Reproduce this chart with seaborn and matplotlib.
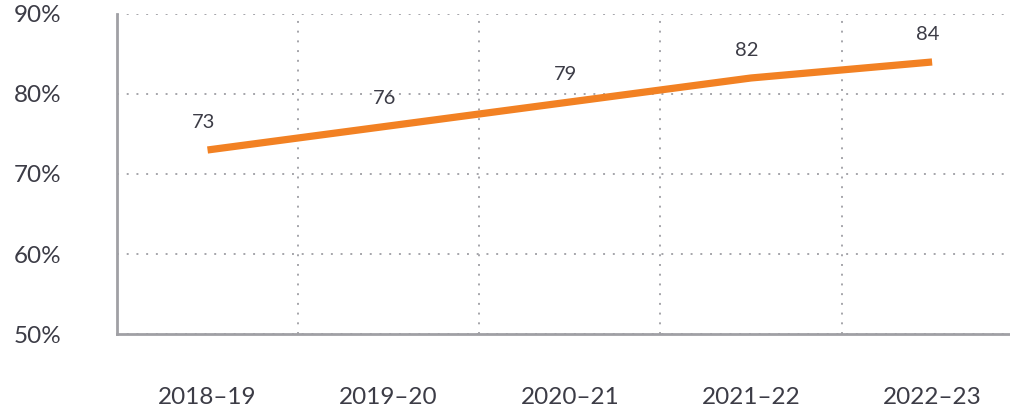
import matplotlib
matplotlib.use("Agg")
import matplotlib.pyplot as plt
import seaborn as sns
import pandas as pd
from matplotlib.ticker import FixedLocator, PercentFormatter

# Share of pupils, by school year
years = ["2018–19", "2019–20", "2020–21", "2021–22", "2022–23"]
values = [73, 76, 79, 82, 84]
y_ticks = [50, 60, 70, 80, 90]

sns.set_theme(style="white")
plt.rcParams["font.family"] = ["Lato", "DejaVu Sans"]

df = pd.DataFrame({"year": years, "value": values})

fig = plt.figure(figsize=(10.10, 4.11), dpi=100)
ax = fig.add_axes([0.1158, 0.1873, 0.8842, 0.7787])

sns.lineplot(data=df, x="year", y="value", ax=ax, color="#f28123",
             linewidth=5.2, solid_capstyle="butt", zorder=3)

text_color = "#3c3c46"
grid_color = "#a5a5aa"

for i, v in enumerate(values):
    ax.annotate(f"{v}", (i, v), xytext=(-3, 14), textcoords="offset points",
                ha="center", va="bottom", fontsize=14.5, color=text_color)

ax.set_ylim(50, 90)
ax.set_xlim(-0.5, 4.43)
ax.yaxis.set_major_locator(FixedLocator(y_ticks))
ax.yaxis.set_major_formatter(PercentFormatter(decimals=0))
ax.xaxis.set_minor_locator(FixedLocator([0.5, 1.5, 2.5, 3.5]))

ax.grid(axis="y", which="major", linestyle=(0, (1, 4)), color=grid_color, linewidth=1.4)
ax.grid(axis="x", which="minor", linestyle=(0, (1, 4)), color=grid_color, linewidth=1.4)
ax.grid(axis="x", which="major", visible=False)

for side in ["top", "right"]:
    ax.spines[side].set_visible(False)
for side in ["left", "bottom"]:
    ax.spines[side].set_color("#a0a0a5")
    ax.spines[side].set_linewidth(2)

ax.tick_params(axis="y", which="major", length=0, pad=40, labelsize=17.5, labelcolor=text_color)
ax.tick_params(axis="x", which="major", length=0, pad=38, labelsize=17.5, labelcolor=text_color)
ax.tick_params(which="minor", length=0)
ax.set_xlabel("")
ax.set_ylabel("")

fig.savefig("out.png", dpi=100, facecolor="white")
